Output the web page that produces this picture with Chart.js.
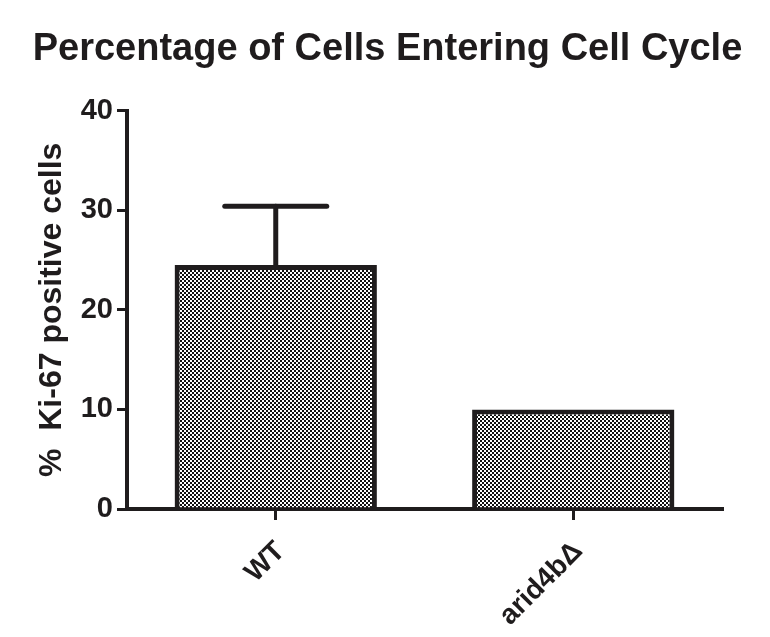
<!DOCTYPE html>
<html>
<head>
<meta charset="utf-8">
<script src="https://cdn.jsdelivr.net/npm/chart.js@4/dist/chart.umd.min.js"></script>
<style>
  html, body { margin: 0; padding: 0; background: #ffffff; }
  #wrap { width: 770px; height: 637px; position: relative; }
</style>
</head>
<body>
<div id="wrap"><canvas id="c" width="770" height="637"></canvas></div>
<script>
const categories = ['WT', 'arid4b\u0394'];
const meanValues = [24.5, 10.0];
const errorValues = [5.9, 0];
const yTickValues = [0, 10, 20, 30, 40];

const INK = '#1f1c1d';
const FONT = "'Liberation Sans', Arial, sans-serif";

function makePattern() {
  const p = document.createElement('canvas');
  p.width = 4; p.height = 4;
  const g = p.getContext('2d');
  g.fillStyle = '#ffffff';
  g.fillRect(0, 0, 4, 4);
  g.fillStyle = '#111111';
  g.fillRect(0, 0, 2, 2);
  g.fillRect(2, 2, 2, 2);
  return document.getElementById('c').getContext('2d').createPattern(p, 'repeat');
}

const errorBarPlugin = {
  id: 'errorBars',
  afterLayout(chart) {
    const tb = chart.titleBlock;
    if (tb) { tb.left = 5; tb.right = 770; tb.width = 765; }
  },
  beforeDatasetsDraw(chart) {
    const ctx = chart.ctx;
    const meta = chart.getDatasetMeta(0);
    const ys = chart.scales.y;
    ctx.save();
    ctx.strokeStyle = INK;
    ctx.lineWidth = 5;
    ctx.lineCap = 'round';
    meta.data.forEach((bar, i) => {
      const err = errorValues[i];
      if (!err) return;
      const x = bar.x;
      const yTop = ys.getPixelForValue(meanValues[i] + err);
      const yBase = ys.getPixelForValue(meanValues[i]);
      ctx.beginPath();
      ctx.moveTo(x, yBase);
      ctx.lineTo(x, yTop);
      ctx.stroke();
      ctx.beginPath();
      ctx.moveTo(x - 51, yTop);
      ctx.lineTo(x + 51, yTop);
      ctx.stroke();
    });
    ctx.restore();
  }
};

new Chart(document.getElementById('c'), {
  type: 'bar',
  data: {
    labels: categories,
    datasets: [{
      data: meanValues,
      backgroundColor: makePattern(),
      borderColor: INK,
      borderWidth: 5,
      borderSkipped: 'bottom',
      categoryPercentage: 1.0,
      barPercentage: 0.68
    }]
  },
  options: {
    responsive: false,
    animation: false,
    devicePixelRatio: 1,
    layout: { padding: { left: 0, right: 48, top: 0, bottom: 0 } },
    plugins: {
      legend: { display: false },
      tooltip: { enabled: false },
      title: {
        display: true,
        text: 'Percentage of Cells Entering Cell Cycle',
        color: INK,
        font: { family: FONT, size: 38, weight: 'bold', lineHeight: 1.2 },
        padding: { top: 27, bottom: 38 }
      }
    },
    scales: {
      x: {
        offset: true,
        afterFit(s) { s.height = 128; },
        border: { display: true, width: 4, color: INK },
        grid: { display: true, offset: false, drawOnChartArea: false, drawTicks: true, tickLength: 11, lineWidth: 3, color: INK },
        ticks: {
          color: INK,
          font: { family: FONT, size: 28, weight: 'bold' },
          minRotation: 45, maxRotation: 45,
          padding: 15,
          labelOffset: 5
        }
      },
      y: {
        min: 0, max: 40,
        afterFit(s) { s.width = 127; },
        afterBuildTicks(s) { s.ticks = yTickValues.map(v => ({ value: v })); },
        border: { display: true, width: 4, color: INK },
        grid: { display: true, drawOnChartArea: false, drawTicks: true, tickLength: 10, lineWidth: 3, color: INK },
        ticks: {
          color: INK,
          font: { family: FONT, size: 29, weight: 'bold' },
          padding: 4
        },
        title: {
          display: true,
          text: '%  Ki-67 positive cells',
          color: INK,
          font: { family: FONT, size: 32, weight: 'bold', lineHeight: 1.2 },
          padding: { top: 33, bottom: 0 }
        }
      }
    }
  },
  plugins: [errorBarPlugin]
});
</script>
</body>
</html>
